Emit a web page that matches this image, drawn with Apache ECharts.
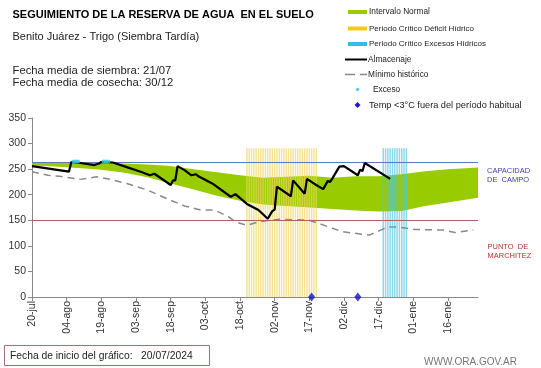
<!DOCTYPE html>
<html>
<head>
<meta charset="utf-8">
<script src="https://cdn.jsdelivr.net/npm/echarts@6/dist/echarts.min.js"></script>
<style>
html,body{margin:0;padding:0;background:#fff;}
#chart{width:541px;height:368px;}
</style>
</head>
<body>
<div id="chart"></div>
<script>
// ---- Data (day index 0 = 20/07/2024) ----
var tickLabels = ['20-jul','04-ago','19-ago','03-sep','18-sep','03-oct','18-oct','02-nov','17-nov','02-dic','17-dic','01-ene','16-ene'];
var axisDays = 193;

var bandDays = [0, 10, 20, 30, 40, 50, 60, 70, 80, 90, 100, 110, 120, 130, 140, 150, 160, 170, 180, 193];
var bandHigh = [264, 264, 264, 263, 261, 259, 256, 250, 244, 238, 233, 235, 237, 233, 236, 236, 240, 246, 250, 253];
var bandLow  = [257, 255, 252, 249, 243, 234, 222, 210, 198, 188, 181, 178, 175, 172, 169, 167, 168, 178, 185, 194];

var almacenajeDays = [0, 16, 17, 21, 27, 29, 30, 35, 41, 47, 51, 53, 60, 61, 62, 63, 66, 69, 71, 72, 78, 86, 88, 93, 98, 102, 104, 105, 106, 112, 113, 118, 119, 123, 126, 128, 129, 130, 133, 135, 141, 142, 143, 144, 155];
var almacenajeVals = [256, 245, 264, 262, 258, 261, 264, 263, 254, 245, 238, 241, 219, 228, 228, 256, 248, 238, 240, 236, 222, 196, 201, 182, 170, 153, 168, 171, 216, 197, 228, 202, 231, 219, 211, 227, 225, 232, 255, 256, 238, 249, 246, 262, 231];

var minimoDays = [0, 7, 12, 21, 28, 34, 41, 50, 59, 66, 73, 79, 85, 88, 93, 98, 107, 120, 124, 134, 146, 154, 158, 166, 178, 183, 191];
var minimoVals = [245, 238, 236, 230, 235, 230, 222, 209, 191, 178, 170, 170, 157, 147, 140, 147, 152, 150, 144, 128, 121, 137, 137, 132, 131, 126, 131];

var excesoDays = [18, 19, 20, 31, 32, 33];
var excesoVals = [265, 265, 265, 265, 265, 265];

var tempDays = [121, 141];
var tempVals = [0, 0];

var deficitPeriod = [93, 123];   // Periodo Crítico Déficit Hídrico (days)
var excesoPeriod = [152, 162];   // Periodo Crítico Excesos Hídricos (days)
var periodTop = 291;

var capacidadCampo = 264;
var puntoMarchitez = 151;

// ---- Build series data ----
function pairs(xs, ys){ var o=[]; for(var i=0;i<xs.length;i++) o.push([xs[i], ys[i]]); return o; }
var stripeData = [];
for (var d = deficitPeriod[0]; d <= deficitPeriod[1]; d++) stripeData.push({value:[d, periodTop], itemStyle:{color:'#efd560'}});
for (var e = excesoPeriod[0]; e <= excesoPeriod[1]; e++) stripeData.push({value:[e, periodTop], itemStyle:{color:'#4cc6dc'}});

var FONT = 'Liberation Sans, Arial, sans-serif';
var chart = echarts.init(document.getElementById('chart'), null, {renderer:'canvas'});

function txt(x, y, text, size, color, weight){
  return {type:'text', x:x, y:y, style:{text:text, font:(weight||'normal')+' '+size+'px '+FONT, fill:color||'#222', verticalAlign:'middle'}};
}

var graphics = [
  txt(12.5, 15, 'SEGUIMIENTO DE LA RESERVA DE AGUA  EN EL SUELO', 11, '#000', 'bold'),
  txt(12.5, 37, 'Benito Juárez - Trigo (Siembra Tardía)', 11, '#222'),
  txt(12.5, 70.5, 'Fecha media de siembra: 21/07', 11.3, '#222'),
  txt(12.5, 83, 'Fecha media de cosecha: 30/12', 11.3, '#222'),
  // legend
  {type:'rect', shape:{x:348, y:10, width:19, height:4}, style:{fill:'#99cc00'}},
  txt(369, 12, 'Intervalo Normal', 8.3, '#222'),
  {type:'rect', shape:{x:348, y:26.5, width:19, height:4}, style:{fill:'#f7c81e'}},
  txt(369, 28.5, 'Periodo Crítico Déficit Hídrico', 8, '#222'),
  {type:'rect', shape:{x:348, y:42, width:19, height:4}, style:{fill:'#33bbee'}},
  txt(369, 44, 'Periodo Crítico Excesos Hídricos', 8, '#222'),
  {type:'line', shape:{x1:345, y1:59.5, x2:367, y2:59.5}, style:{stroke:'#000', lineWidth:2}},
  txt(368, 59.5, 'Almacenaje', 8.3, '#222'),
  {type:'line', shape:{x1:345, y1:74.5, x2:367, y2:74.5}, style:{stroke:'#888', lineWidth:1.5, lineDash:[10,5]}},
  txt(368, 74.5, 'Mínimo histórico', 8.3, '#222'),
  {type:'circle', shape:{cx:357.5, cy:89.5, r:1.6}, style:{fill:'#33ccee'}},
  txt(373, 89.5, 'Exceso', 8.3, '#222'),
  {type:'polygon', shape:{points:[[357.5,102],[360.5,105],[357.5,108],[354.5,105]]}, style:{fill:'#1a1acc'}},
  txt(369, 105, 'Temp <3°C fuera del período habitual', 9.2, '#222'),
  // right labels
  txt(487, 170.5, 'CAPACIDAD', 7.5, '#4040b0'),
  txt(487, 179.5, 'DE  CAMPO', 7.5, '#4040b0'),
  txt(487.5, 246.5, 'PUNTO  DE', 7.5, '#c03030'),
  txt(487.5, 255.5, 'MARCHITEZ', 7.5, '#c03030'),
  // bottom
  {type:'rect', shape:{x:4.5, y:345.5, width:205, height:20}, style:{fill:'#fff', stroke:'#a07070', lineWidth:1}},
  txt(10, 356, 'Fecha de inicio del gráfico:   20/07/2024', 10.3, '#222'),
  txt(424, 362, 'WWW.ORA.GOV.AR', 10, '#777')
];

var option = {
  animation: false,
  backgroundColor: '#fff',
  grid: {left: 32, right: 63, top: 118, bottom: 71, containLabel: false, outerBoundsMode: 'none'},
  xAxis: {
    type: 'value', min: 0, max: axisDays, interval: 15,
    axisLine: {show: true, lineStyle: {color: '#888', width: 1}},
    axisTick: {show: true, length: 4, lineStyle: {color: '#888'}},
    splitLine: {show: false},
    axisLabel: {
      rotate: 90, fontSize: 10.5, color: '#333', fontFamily: FONT, margin: 4,
      showMaxLabel: false,
      formatter: function(v){ var i = Math.round(v/15); return (v % 15 === 0 && tickLabels[i]) ? tickLabels[i] : ''; }
    }
  },
  yAxis: {
    type: 'value', min: 0, max: 350, interval: 50,
    name: 'Milímetros', nameLocation: 'middle', nameRotate: 90, nameGap: 25,
    nameTextStyle: {fontSize: 7, color: '#333', fontFamily: FONT},
    axisLine: {show: true, lineStyle: {color: '#888', width: 1}},
    axisTick: {show: true, length: 4, lineStyle: {color: '#888'}},
    splitLine: {show: false},
    axisLabel: {fontSize: 10.5, color: '#333', fontFamily: FONT, margin: 6}
  },
  graphic: graphics,
  series: [
    {
      type: 'custom', name: 'Intervalo Normal', z: 1,
      data: [[0, 0]],
      renderItem: function(params, api){
        var pts = [];
        for (var i=0;i<bandDays.length;i++) pts.push(api.coord([bandDays[i], bandHigh[i]]));
        for (var j=bandDays.length-1;j>=0;j--) pts.push(api.coord([bandDays[j], bandLow[j]]));
        return {type:'polygon', shape:{points:pts}, style:{fill:'#99cc00'}};
      },
      silent: true
    },
    {
      type: 'bar', name: 'Periodos', z: 2, barWidth: 1.5,
      itemStyle: {opacity: 0.65},
      data: stripeData, silent: true
    },
    {
      type: 'line', name: 'Referencias', z: 3, data: [],
      markLine: {
        symbol: 'none', silent: true, label: {show: false},
        data: [
          {yAxis: capacidadCampo, lineStyle: {color: '#5a78c0', width: 1, type: 'solid'}},
          {yAxis: puntoMarchitez, lineStyle: {color: '#b06060', width: 1, type: 'solid'}}
        ]
      }
    },
    {
      type: 'line', name: 'Mínimo histórico', z: 4, data: pairs(minimoDays, minimoVals),
      showSymbol: false, lineStyle: {color: '#8a8a8a', width: 1.5, type: [7, 5]}
    },
    {
      type: 'line', name: 'Almacenaje', z: 5, data: pairs(almacenajeDays, almacenajeVals),
      showSymbol: false, lineStyle: {color: '#000', width: 2.2}
    },
    {
      type: 'scatter', name: 'Exceso', z: 6, data: pairs(excesoDays, excesoVals),
      symbol: 'circle', symbolSize: 4, itemStyle: {color: '#33ccee'}
    },
    {
      type: 'scatter', name: 'Temp', z: 7, clip: false, data: pairs(tempDays, tempVals),
      symbol: 'diamond', symbolSize: [7, 9], itemStyle: {color: '#1010cc'}
    }
  ]
};
chart.setOption(option);
</script>
</body>
</html>
